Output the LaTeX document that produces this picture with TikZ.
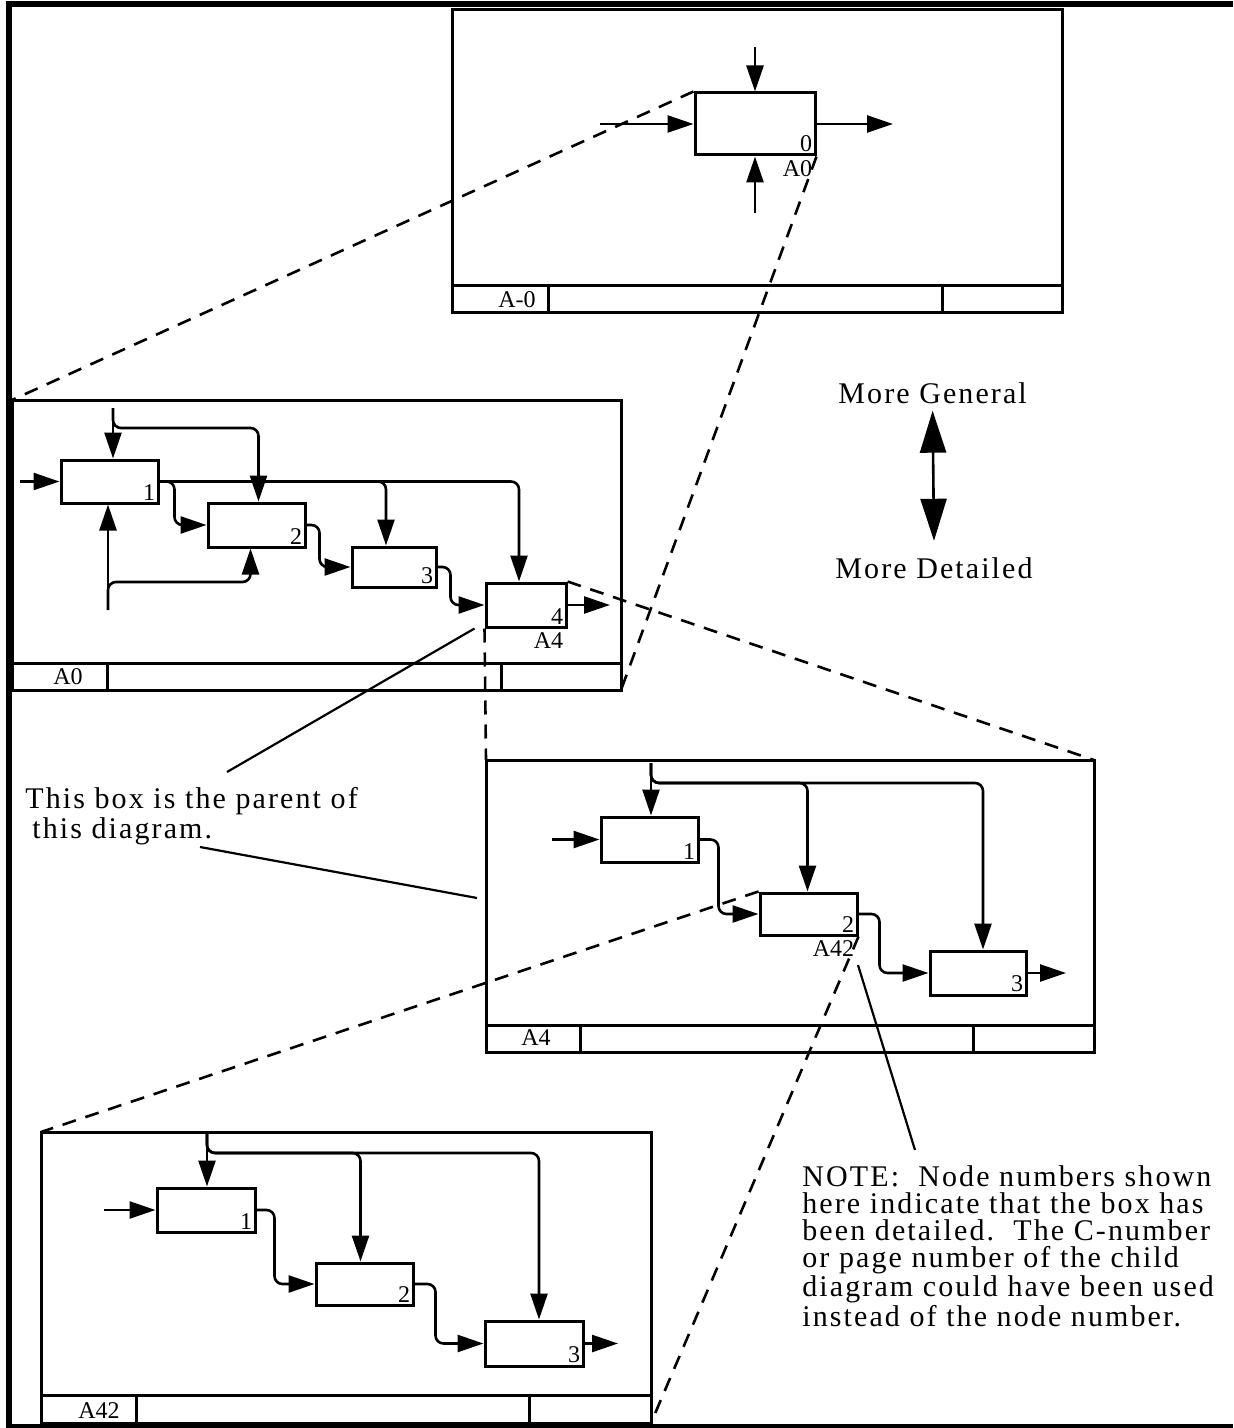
\documentclass[tikz,border=0pt]{standalone}
\usepackage{fontspec}
\setmainfont{Liberation Serif}
\newfontfamily\notafont[LetterSpace=7]{Liberation Serif}
\usetikzlibrary{arrows.meta}

\begin{document}
\begin{tikzpicture}[x=0.5pt,y=-0.5pt,
  marco/.style={line width=1.5pt},
  caja/.style={draw,line width=1.5pt,inner sep=0pt},
  flujo/.style={line width=1.3pt,-{Triangle[length=13pt,width=8.5pt]}},
  rama/.style={flujo,rounded corners=4pt},
  enlace/.style={line width=1.3pt,dash pattern=on 7pt off 5pt},
  guia/.style={line width=1.1pt},
  etiq/.style={font=\fontsize{12}{12}\selectfont,inner sep=2pt},
  nota/.style={font=\notafont\fontsize{15}{13.5}\selectfont,align=left,inner sep=0pt}]
\useasboundingbox (0,0) rectangle (1233,1428);
% Marco exterior
\draw[line width=3pt] (9,1428) -- (9,4.5) -- (1233,4.5);
\draw[line width=2pt] (6,1426) -- (1233,1426);

% Diagrama A-0
\coordinate (f0nw) at (452,10);
\coordinate (f0se) at (1062,313);
\draw[marco] (f0nw) rectangle (f0se);
\draw[marco] (452,286) -- (1062,286) (548,286) -- (548,313) (942,286) -- (942,313);
\node[etiq] (t0) at (517,300) {A-0};
\node[caja,minimum width=60pt,minimum height=31pt] (b0) at (755,124) {};
\node[etiq,anchor=south east] (b0n) at (b0.south east) {0};
\node[etiq,anchor=north east] (b0a) at (b0.south east) {A0};
\coordinate (b0in) at (600,124);
\coordinate (b0out) at (893,124);
\coordinate (b0c) at (755,47);
\coordinate (b0m) at (755,213);
\draw[flujo] (b0in) -- (b0.west);
\draw[flujo] (b0.east) -- (b0out);
\draw[flujo] (b0c) -- (b0.north);
\draw[flujo] (b0m) -- (b0.south);

% Diagrama A0
\coordinate (f1nw) at (12,400);
\coordinate (f1se) at (621,690);
\draw[marco] (f1nw) rectangle (f1se);
\draw[marco] (12,663) -- (621,663) (107,663) -- (107,690) (501,663) -- (501,690);
\node[etiq] (t1) at (68,677) {A0};
\node[caja,minimum width=48.5pt,minimum height=21.5pt] (b1) at (109.5,481.5) {};
\node[caja,minimum width=48.5pt,minimum height=22pt] (b2) at (256.5,525) {};
\node[caja,minimum width=42pt,minimum height=20pt] (b3) at (394,567) {};
\node[caja,minimum width=40pt,minimum height=22pt] (b4) at (526,605) {};
\node[etiq,anchor=south east] (b1n) at (b1.south east) {1};
\node[etiq,anchor=south east] (b2n) at (b2.south east) {2};
\node[etiq,anchor=south east] (b3n) at (b3.south east) {3};
\node[etiq,anchor=south east] (b4n) at (b4.south east) {4};
\node[etiq,anchor=north east] (b4a) at (b4.south east) {A4};
\coordinate (a0in) at (20,481.5);
\coordinate (a0c) at (113,408);
\coordinate (a0m) at (108,610);
\coordinate (a0out) at (610,605);
\draw[flujo] (a0in) -- (b1.west);
\draw[flujo] (a0c) -- (a0c |- b1.north);
\draw[rama] (a0c) -- ++(0,20) -| ([xshift=1pt]b2.north);
\draw[flujo] (a0m) -- (a0m |- b1.south);
\draw[rama] (a0m) -- ++(0,-28) -| ([xshift=-3pt]b2.south);
\draw[rama] (b1.east) -| ([xshift=-4pt]b3.north);
\draw[rama] (b1.east) -| ([xshift=-3.5pt]b4.north);
\draw[rama] (b1.east) -- ++(15,0) |- (b2.west);
\draw[rama] (b2.east) -- ++(13,0) |- (b3.west);
\draw[rama] (b3.east) -- ++(13,0) |- (b4.west);
\draw[flujo] (b4.east) -- (a0out);

% Diagrama A4
\coordinate (f2nw) at (486,760);
\coordinate (f2ne) at (1094,760);
\draw[marco] (f2nw) rectangle (1094,1052);
\draw[marco] (486,1025) -- (1094,1025) (580,1025) -- (580,1052) (973,1025) -- (973,1052);
\node[etiq] (t2) at (536,1038) {A4};
\node[caja,minimum width=48.5pt,minimum height=22.5pt] (c1) at (649.5,839.5) {};
\node[caja,minimum width=48.5pt,minimum height=21pt] (c2) at (808.5,914) {};
\node[caja,minimum width=48pt,minimum height=22pt] (c3) at (978,973) {};
\node[etiq,anchor=south east] (c1n) at (c1.south east) {1};
\node[etiq,anchor=south east] (c2n) at (c2.south east) {2};
\node[etiq,anchor=south east] (c3n) at (c3.south east) {3};
\node[etiq,anchor=north east] (c2a) at (c2.south east) {A42};
\coordinate (a4in) at (552,839.5);
\coordinate (a4c) at (651,763);
\coordinate (a4out) at (1066,973);
\draw[flujo] (a4in) -- (c1.west);
\draw[flujo] (a4c) -- (a4c |- c1.north);
\draw[rama] (a4c) -- ++(0,20) -| ([xshift=-0.5pt]c2.north);
\draw[rama] (a4c) -- ++(0,20) -| ([xshift=2.5pt]c3.north);
\draw[rama] (c1.east) -- ++(19,0) |- (c2.west);
\draw[rama] (c2.east) -- ++(21,0) |- (c3.west);
\draw[flujo] (c3.east) -- (a4out);

% Diagrama A42
\coordinate (f3nw) at (41,1132);
\coordinate (f3se) at (651,1423);
\draw[marco] (f3nw) rectangle (f3se);
\draw[marco] (41,1395) -- (651,1395) (136,1395) -- (136,1423) (529,1395) -- (529,1423);
\node[etiq] (t3) at (99,1411) {A42};
\node[caja,minimum width=49pt,minimum height=22pt] (d1) at (206,1210) {};
\node[caja,minimum width=48.5pt,minimum height=21pt] (d2) at (364.5,1284) {};
\node[caja,minimum width=49pt,minimum height=22.5pt] (d3) at (534,1343.5) {};
\node[etiq,anchor=south east] (d1n) at (d1.south east) {1};
\node[etiq,anchor=south east] (d2n) at (d2.south east) {2};
\node[etiq,anchor=south east] (d3n) at (d3.south east) {3};
\coordinate (a42in) at (104,1210);
\coordinate (a42c) at (207,1133);
\coordinate (a42out) at (618,1343.5);
\draw[flujo] (a42in) -- (d1.west);
\draw[flujo] (a42c) -- (a42c |- d1.north);
\draw[rama] (a42c) -- ++(0,20) -| ([xshift=-2pt]d2.north);
\draw[rama] (a42c) -- ++(0,20) -| ([xshift=2.5pt]d3.north);
\draw[rama] (d1.east) -- ++(18,0) |- (d2.west);
\draw[rama] (d2.east) -- ++(21,0) |- (d3.west);
\draw[flujo] (d3.east) -- (a42out);

% Lineas de descomposicion
\draw[enlace] (b0.north west) -- (f1nw);
\draw[enlace] (b0.south east) -- (f1se);
\draw[enlace] (b4.north east) -- (f2ne);
\draw[enlace] (b4.south west) -- (f2nw);
\draw[enlace] (c2.north west) -- (f3nw);
\draw[enlace] (c2.south east) -- (f3se);

% Textos
\node[nota,anchor=base west] (general) at (838,403) {More General};
\node[nota,anchor=base west] (detalle) at (835,578) {More Detailed};
\draw[line width=1.3pt,{Triangle[length=21pt,width=13pt]}-{Triangle[length=21pt,width=13pt]}] ([yshift=-3.5pt]general.south) -- ([yshift=8pt]detalle.north);
% el ancla base queda en la ultima linea
\node[nota,font=\notafont\fontsize{15}{15}\selectfont,anchor=base west] (padre) at (25,838) {This box is the parent of\\\hspace{3.5pt}this diagram.};
\node[nota,anchor=base west] (notatexto) at (802,1326) {NOTE:\ \ Node numbers shown\\here indicate that the box has\\been detailed.\ \ The C-number\\or page number of the child\\diagram could have been used\\instead of the node number.};
\coordinate (p1) at (227,772);
\coordinate (p2) at (200,847);
\coordinate (p3) at (477,898);
\coordinate (p4) at (858,965);
\coordinate (p5) at (915,1150);
\draw[guia] ([xshift=-5pt]b4.south west) -- (p1);
\draw[guia] (p2) -- (p3);
\draw[guia] (p4) -- (p5);
\end{tikzpicture}
\end{document}
